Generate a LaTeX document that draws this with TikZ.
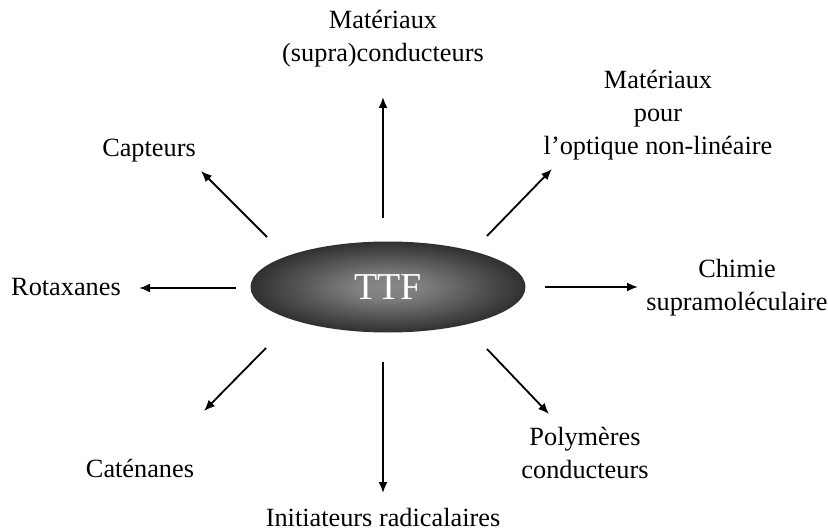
\documentclass[tikz,border=0pt]{standalone}
\usepackage{fontspec}
\setmainfont{Liberation Serif}
\usetikzlibrary{arrows.meta,shapes.geometric}
\pgfdeclareradialshading{ttfshade}{\pgfpoint{0bp}{0bp}}{color(0bp)=(black!47); color(6bp)=(black!50); color(34bp)=(black!96); color(50bp)=(black)}
\begin{document}
\begin{tikzpicture}[x=1pt,y=-1pt,
  lbl/.style={font=\fontsize{26.3}{33}\selectfont,align=center,inner sep=0pt},
  arr/.style={line width=1.8pt,-{Latex[length=11pt,width=9pt]}}]
\useasboundingbox (0,0) rectangle (828,532);
\node[ellipse,minimum width=275pt,minimum height=91pt,inner sep=0pt,
  shading=ttfshade,
  font=\fontsize{38}{38}\selectfont,text=white] (ttf) at (388,287) {TTF};
% start coordinates
\coordinate (s1) at (383,218); \coordinate (e1) at (383,97);
\coordinate (s2) at (487,236); \coordinate (e2) at (552,169);
\coordinate (s3) at (545,287); \coordinate (e3) at (638,287);
\coordinate (s4) at (487,349); \coordinate (e4) at (549,414);
\coordinate (s5) at (383,362); \coordinate (e5) at (383,493);
\coordinate (s6) at (266,348); \coordinate (e6) at (204,411);
\coordinate (s7) at (236,288); \coordinate (e7) at (139,288);
\coordinate (s8) at (267,237); \coordinate (e8) at (201,171);
\foreach \i in {1,...,8} \draw[arr] (s\i) -- (e\i);
% labels
\node[lbl] (l1) at (383,39) {Matériaux\\(supra)conducteurs};
\node[lbl] (l2) at (658,115) {Matériaux\\pour\\l’optique non-linéaire};
\node[lbl] (l3) at (737,288) {Chimie\\supramoléculaire};
\node[lbl] (l4) at (585,453) {Polymères\\conducteurs};
\node[lbl] (l5) at (383,518) {Initiateurs radicalaires};
\node[lbl] (l6) at (140,468) {Caténanes};
\node[lbl] (l7) at (66,287) {Rotaxanes};
\node[lbl] (l8) at (149,151) {Capteurs};
\end{tikzpicture}
\end{document}
